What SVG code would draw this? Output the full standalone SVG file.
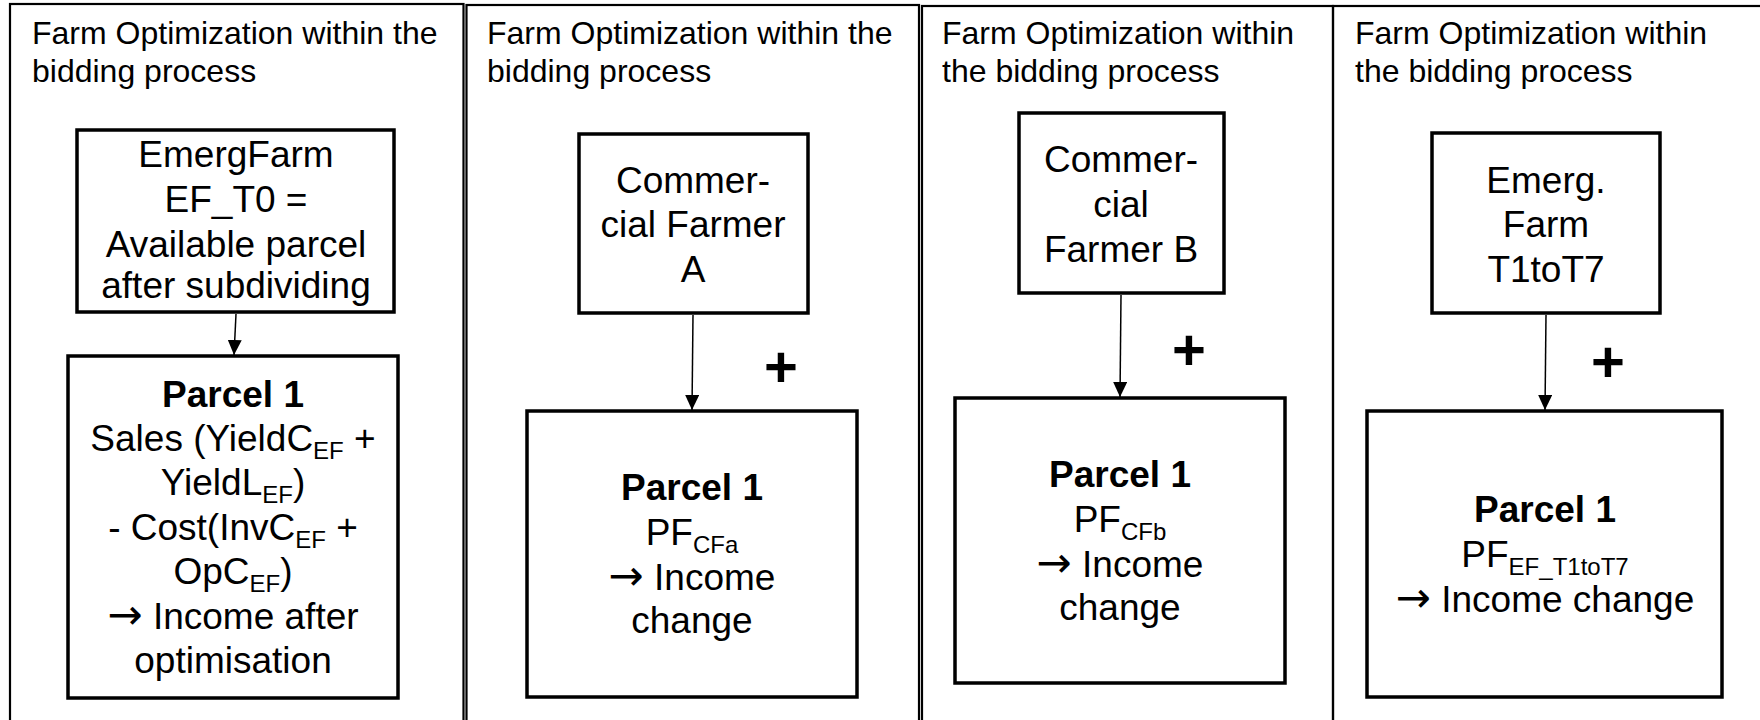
<svg xmlns="http://www.w3.org/2000/svg" width="1760" height="720" viewBox="0 0 1760 720">
<style>
.panel{fill:none;stroke:#000;stroke-width:2.2}
.box{fill:#fff;stroke:#000;stroke-width:3.5}
.title{font-family:"Liberation Sans",Arial,sans-serif;font-size:32px;fill:#000}
.t{font-family:"Liberation Sans",Arial,sans-serif;font-size:37px;fill:#000;text-anchor:middle}
.b{font-weight:bold}
.sub{font-size:24px}
.arr{font-family:"DejaVu Sans",sans-serif;font-size:42px}
.plus{font-family:"Liberation Sans",Arial,sans-serif;font-size:58px;font-weight:bold;fill:#000;text-anchor:middle}
.conn{stroke:#000;stroke-width:1.5;fill:none}
</style>
<defs>
<marker id="ah" viewBox="0 0 15 14" refX="15" refY="7" markerWidth="15" markerHeight="14" markerUnits="userSpaceOnUse" orient="auto">
<path d="M0,0 L15,7 L0,14 z" fill="#000"/>
</marker>
</defs>
<rect width="1760" height="720" fill="#fff"/>

<g id="panel1">
<rect class="panel" x="10" y="4" width="453.5" height="740"/>
<text class="title" x="32" y="44">Farm Optimization within the</text>
<text class="title" x="32" y="82">bidding process</text>
</g>
<g id="panel2">
<rect class="panel" x="466.5" y="5" width="452.5" height="740"/>
<text class="title" x="487" y="44">Farm Optimization within the</text>
<text class="title" x="487" y="82">bidding process</text>
</g>
<g id="panel3">
<rect class="panel" x="922" y="6" width="411" height="740"/>
<text class="title" x="942" y="44">Farm Optimization within</text>
<text class="title" x="942" y="82">the bidding process</text>
</g>
<g id="panel4">
<rect class="panel" x="1333" y="6" width="440" height="740"/>
<text class="title" x="1355" y="44">Farm Optimization within</text>
<text class="title" x="1355" y="82">the bidding process</text>
</g>

<g id="emergfarm-t0">
<rect class="box" x="77" y="130" width="317" height="182"/>
<text class="t" x="236" y="167">EmergFarm</text>
<text class="t" x="236" y="212">EF_T0 =</text>
<text class="t" x="236" y="257">Available parcel</text>
<text class="t" x="236" y="298">after subdividing</text>
</g>
<g id="parcel1-ef">
<rect class="box" x="68" y="356" width="330" height="342"/>
<text class="t b" x="233" y="407">Parcel 1</text>
<text class="t" x="233" y="451">Sales (YieldC<tspan class="sub" dy="8">EF</tspan><tspan dy="-8"> +</tspan></text>
<text class="t" x="233" y="495">YieldL<tspan class="sub" dy="8">EF</tspan><tspan dy="-8">)</tspan></text>
<text class="t" x="233" y="540">- Cost(InvC<tspan class="sub" dy="8">EF</tspan><tspan dy="-8"> +</tspan></text>
<text class="t" x="233" y="584">OpC<tspan class="sub" dy="8">EF</tspan><tspan dy="-8">)</tspan></text>
<text class="t" x="233" y="629"><tspan class="arr">→</tspan> Income after</text>
<text class="t" x="233" y="673">optimisation</text>
</g>

<g id="commercial-a">
<rect class="box" x="579" y="134" width="229" height="179"/>
<text class="t" x="693" y="193">Commer-</text>
<text class="t" x="693" y="237">cial Farmer</text>
<text class="t" x="693" y="282">A</text>
</g>
<g id="parcel1-cfa">
<rect class="box" x="527" y="411" width="330" height="286"/>
<text class="t b" x="692" y="500">Parcel 1</text>
<text class="t" x="692" y="545">PF<tspan class="sub" dy="8">CFa</tspan></text>
<text class="t" x="692" y="590"><tspan class="arr">→</tspan> Income</text>
<text class="t" x="692" y="633">change</text>
</g>
<text id="plus-a" class="plus" x="781" y="387">+</text>

<g id="commercial-b">
<rect class="box" x="1019" y="113" width="205" height="180"/>
<text class="t" x="1121" y="172">Commer-</text>
<text class="t" x="1121" y="217">cial</text>
<text class="t" x="1121" y="262">Farmer B</text>
</g>
<g id="parcel1-cfb">
<rect class="box" x="955" y="398" width="330" height="285"/>
<text class="t b" x="1120" y="487">Parcel 1</text>
<text class="t" x="1120" y="532">PF<tspan class="sub" dy="8">CFb</tspan></text>
<text class="t" x="1120" y="577"><tspan class="arr">→</tspan> Income</text>
<text class="t" x="1120" y="620">change</text>
</g>
<text id="plus-b" class="plus" x="1189" y="370">+</text>

<g id="emergfarm-t1t7">
<rect class="box" x="1432" y="133" width="228" height="180"/>
<text class="t" x="1546" y="193">Emerg.</text>
<text class="t" x="1546" y="237">Farm</text>
<text class="t" x="1546" y="282">T1toT7</text>
</g>
<g id="parcel1-ef-t1t7">
<rect class="box" x="1367" y="411" width="355" height="286"/>
<text class="t b" x="1545" y="522">Parcel 1</text>
<text class="t" x="1545" y="567">PF<tspan class="sub" dy="8">EF_T1toT7</tspan></text>
<text class="t" x="1545" y="612"><tspan class="arr">→</tspan> Income change</text>
</g>
<text id="plus-c" class="plus" x="1608" y="382">+</text>

<g id="connectors">
<line class="conn" x1="236" y1="314" x2="234" y2="355" marker-end="url(#ah)"/>
<line class="conn" x1="693" y1="315" x2="692" y2="410" marker-end="url(#ah)"/>
<line class="conn" x1="1121" y1="295" x2="1120" y2="397" marker-end="url(#ah)"/>
<line class="conn" x1="1546" y1="315" x2="1545" y2="410" marker-end="url(#ah)"/>
</g>
</svg>
